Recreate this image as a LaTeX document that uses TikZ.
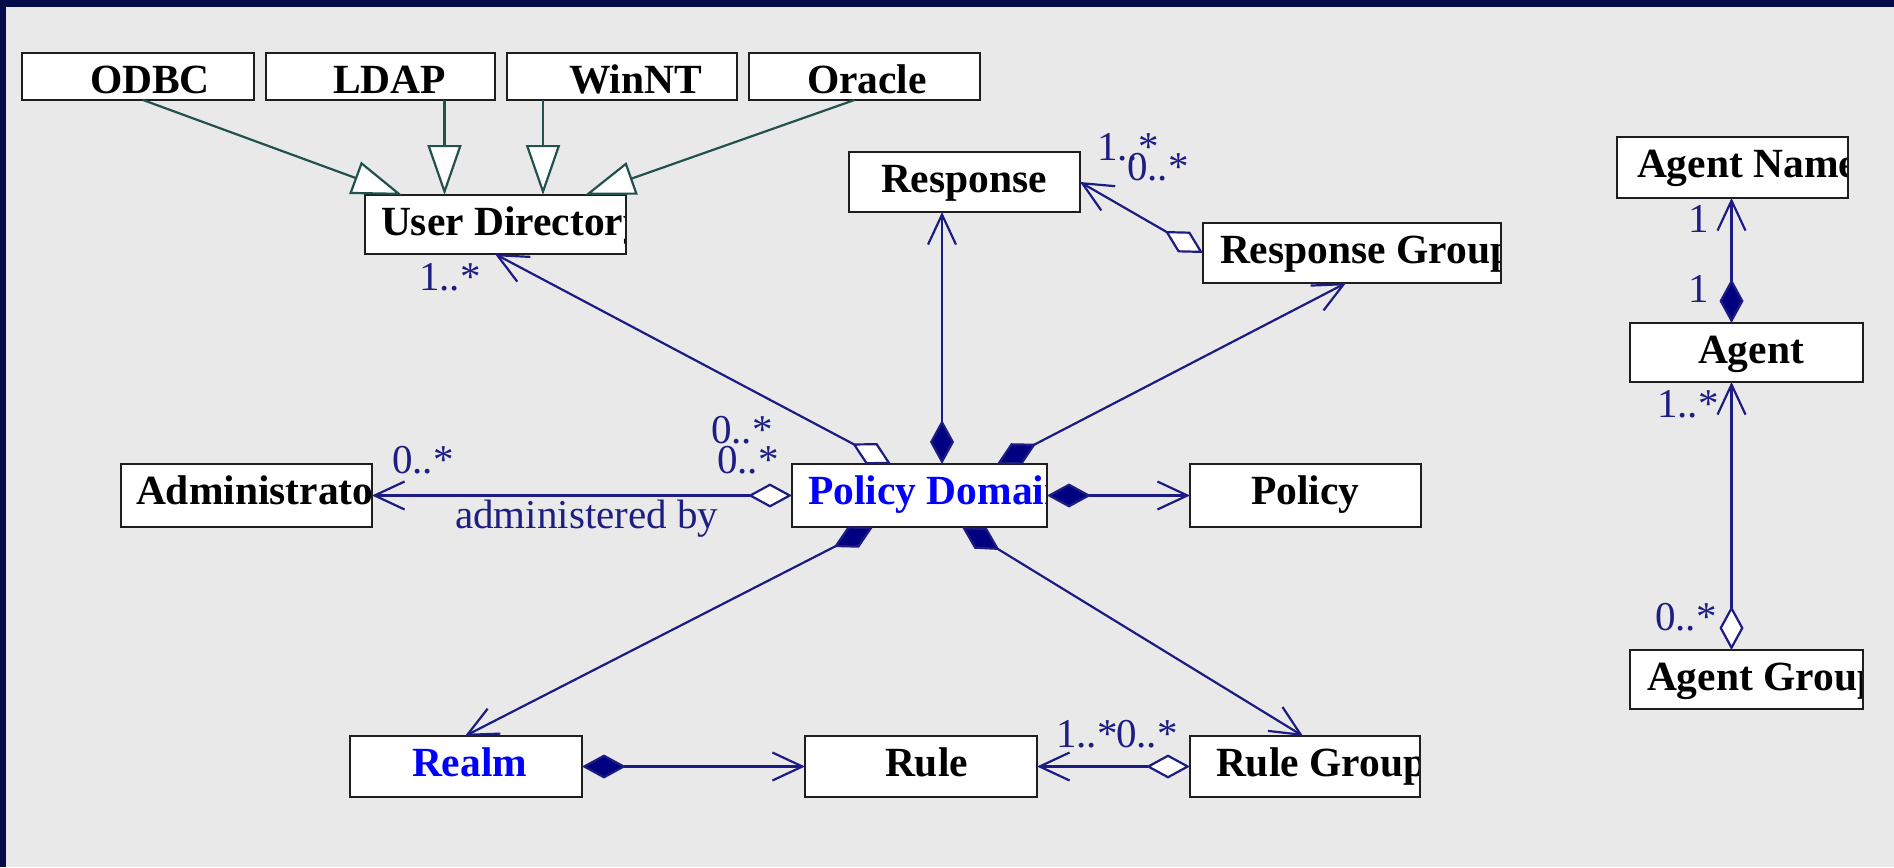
\documentclass[tikz,border=0pt]{standalone}
\usepackage{fontspec}
\setmainfont{Liberation Serif}
\usepackage{xcolor}
\usepackage{tikz}
\usetikzlibrary{arrows.meta,positioning,backgrounds}

\definecolor{frame}{RGB}{2,12,72}
\definecolor{canvas}{RGB}{233,233,233}
\definecolor{boxline}{RGB}{30,30,30}
\definecolor{navyline}{RGB}{28,28,130}
\definecolor{navyfill}{RGB}{0,0,128}
\definecolor{genline}{RGB}{35,82,76}
\definecolor{multlab}{RGB}{30,30,130}
\definecolor{pdblue}{RGB}{0,0,255}

\begin{document}
\begin{tikzpicture}[
  x=1pt, y=-1pt,
  font=\fontsize{41.5}{48}\selectfont,
  box/.style={draw=boxline, line width=2pt, fill=white, anchor=north west, inner sep=0pt, outer sep=0pt, minimum width=231pt, minimum height=60pt},
  cls/.style 2 args={path picture={\node[draw=none, fill=none, minimum size=0pt, anchor=base west, inner sep=0pt, font=\fontsize{41.5}{48}\selectfont\bfseries] at ([xshift=#1, yshift=-40pt]path picture bounding box.north west) {#2};}},
  mult/.style={text=multlab, anchor=base west, inner sep=0pt, font=\fontsize{41}{48}\selectfont},
  gen/.style={draw=genline, line width=2.2pt, -{Triangle[fill=white, length=50pt, width=34pt]}},
  assoc/.style={draw=navyline, line width=2.2pt},
  comp/.style={assoc, {Diamond[fill=navyfill, length=44pt, width=24pt]}-{Straight Barb[length=30pt, width=28pt]}},
  agg/.style={assoc, {Diamond[fill=white, length=44pt, width=24pt]}-{Straight Barb[length=30pt, width=28pt]}}
]
\useasboundingbox (0,0) rectangle (1894,867);
\begin{scope}[on background layer]
  \fill[canvas] (0,0) rectangle (1894,867);
  \fill[frame] (0,0) rectangle (1894,7);
  \fill[frame] (0,0) rectangle (6,867);
\end{scope}

% directory classes
\node[box, minimum width=232pt, minimum height=47pt, cls={68pt}{ODBC}] (ODBC) at (22,53) {};
\node[box, minimum width=229pt, minimum height=47pt, cls={67pt}{LDAP}, right=12pt of ODBC] (LDAP) {};
\node[box, minimum width=230pt, minimum height=47pt, cls={62pt}{WinNT}, right=12pt of LDAP] (WinNT) {};
\node[box, minimum height=47pt, cls={58pt}{Oracle}, right=12pt of WinNT] (Oracle) {};
\node[box, minimum width=261pt, minimum height=59pt, cls={16pt}{User Directory}] (UD) at (365,195) {};

% responses
\node[box, cls={32pt}{Response}] (Resp) at (849,152) {};
\node[box, minimum width=298pt, cls={17pt}{Response Group}] (RespG) at (1203,223) {};

% domain row
\node[box, minimum width=255pt, minimum height=63pt, cls={16pt}{\textcolor{pdblue}{Policy Domain}}] (PD) at (792,464) {};
\node[box, minimum width=251pt, minimum height=63pt, cls={15pt}{Administrator}, left=420pt of PD] (Admin) {};
\node[box, minimum height=63pt, cls={61pt}{Policy}, right=143pt of PD] (Policy) {};

% rule row
\node[box, minimum width=232pt, minimum height=61pt, cls={62pt}{\textcolor{pdblue}{Realm}}] (Realm) at (350,736) {};
\node[box, minimum width=232pt, minimum height=61pt, cls={80pt}{Rule}, right=223pt of Realm] (Rule) {};
\node[box, minimum width=230pt, minimum height=61pt, cls={26pt}{Rule Group}, right=153pt of Rule] (RuleG) {};

% agents
\node[box, minimum height=61pt, cls={20pt}{Agent Name}] (AgentN) at (1617,137) {};
\node[box, minimum width=233pt, minimum height=59pt, cls={68pt}{Agent}] (Agent) at (1630,323) {};
\node[box, minimum width=233pt, minimum height=59pt, cls={17pt}{Agent Group}] (AgentG) at (1630,650) {};

% generalisations
\draw[gen] ([xshift=5pt]ODBC.south) -- ([xshift=37pt]UD.north west);
\draw[gen] ([xshift=64pt]LDAP.south) -- ([xshift=64pt]LDAP.south |- UD.north);
\draw[gen] ([xshift=-79pt]WinNT.south) -- ([xshift=-79pt]WinNT.south |- UD.north);
\draw[gen] ([xshift=-10pt]Oracle.south) -- ([xshift=220pt]UD.north west);

% associations
\draw[agg] ([xshift=99pt]PD.north west) -- ([xshift=130pt]UD.south west);
\draw[comp] ([xshift=150pt]PD.north west) -- ([xshift=150pt]PD.north west |- Resp.south);
\draw[comp] ([xshift=205pt]PD.north west) -- ([xshift=143pt]RespG.south west);
\draw[agg] (PD.west) -- (Admin.east);
\draw[comp] (PD.east) -- (Policy.west);
\draw[comp] ([xshift=81pt]PD.south west) -- ([xshift=115pt]Realm.north west);
\draw[comp] ([xshift=170pt]PD.south west) -- ([xshift=113pt]RuleG.north west);
\draw[comp] (Realm.east) -- (Rule.west);
\draw[agg] (RuleG.west) -- (Rule.east);
\draw[agg] (RespG.west) -- (Resp.east);
\draw[comp] ([xshift=-15pt]Agent.north) -- ([xshift=-15pt]Agent.north |- AgentN.south);
\draw[agg] ([xshift=-15pt]AgentG.north) -- ([xshift=-15pt]AgentG.north |- Agent.south);

% multiplicities
\node[mult] (udm) at (419,290) {1..*};
\node[mult] (pdm1) at (711,443) {0..*};
\node[mult] (pdm2) at (717,473) {0..*};
\node[mult] (adm) at (392,473) {0..*};
\node[mult] (admby) at (455,528) {administered by};
\node[mult] (rsm1) at (1097,160) {1..*};
\node[mult] (rsm2) at (1127,180) {0..*};
\node[mult] (rlm1) at (1056,747) {1..*};
\node[mult] (rlm2) at (1116,747) {0..*};
\node[mult] (agm1) at (1688,232) {1};
\node[mult] (agm2) at (1688,302) {1};
\node[mult] (agm3) at (1657,417) {1..*};
\node[mult] (agm4) at (1655,630) {0..*};
\end{tikzpicture}
\end{document}
